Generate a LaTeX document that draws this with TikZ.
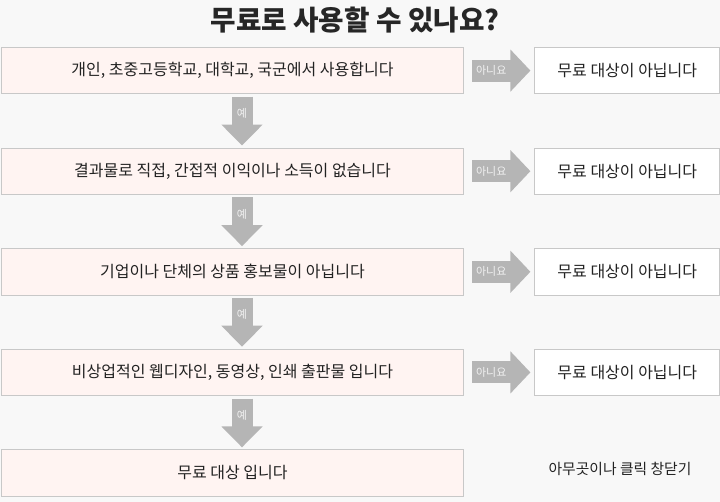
\documentclass[tikz,border=0pt]{standalone}
\usepackage{fontspec}
\setmainfont{Noto Sans CJK KR}
\usepackage{tikz}
\usetikzlibrary{positioning, arrows.meta}

\definecolor{bgcol}{HTML}{F8F8F8}
\definecolor{askfill}{HTML}{FFF4F2}
\definecolor{boxline}{HTML}{C8C8C8}
\definecolor{arrowcol}{HTML}{B5B5B5}
\definecolor{txtcol}{HTML}{222222}

\tikzset{
    askbox/.style={draw=boxline, line width=0.8pt, fill=askfill, inner sep=0pt,
        minimum width=461.6pt, minimum height=46.5pt, text=txtcol,
        font=\fontsize{16}{19}\selectfont},
    nobox/.style={askbox, fill=white, minimum width=185pt},
    noarrow/.style={draw=arrowcol, line width=22pt, shorten <=8.4pt, shorten >=4pt,
        -{Triangle[length=20pt, width=41pt]}},
    yesarrow/.style={draw=arrowcol, line width=21pt, shorten <=2.5pt, shorten >=2pt,
        -{Triangle[length=21pt, width=40pt]}},
    arrowlabel/.style={text=white!95!black, inner sep=0pt, font=\fontsize{11}{13}\selectfont}
}

\begin{document}
\begin{tikzpicture}[x=1pt, y=-1pt, node distance=53.3pt]
    % Background
    \fill[bgcol] (0,0) rectangle (720,502);
    \useasboundingbox (0,0) rectangle (720,502);
    % Title
    \node[text=black!85, font=\fontsize{27.7}{32}\selectfont\bfseries] (title) at (355,20)
        {무료로 사용할 수 있나요?};
    % Questions
    \node[askbox] (q1) at (232.5,70.6) {개인, 초중고등학교, 대학교, 국군에서 사용합니다};
    \node[askbox, below=of q1] (q2) {결과물로 직접, 간접적 이익이나 소득이 없습니다};
    \node[askbox, below=of q2] (q3) {기업이나 단체의 상품 홍보물이 아닙니다};
    \node[askbox, below=of q3] (q4) {비상업적인 웹디자인, 동영상, 인쇄 출판물 입니다};
    \node[askbox, below=of q4] (q5) {무료 대상 입니다};
    % Not free
    \node[nobox, right=70.7pt of q1] (n1) {무료 대상이 아닙니다};
    \node[nobox, right=70.7pt of q2] (n2) {무료 대상이 아닙니다};
    \node[nobox, right=70.7pt of q3] (n3) {무료 대상이 아닙니다};
    \node[nobox, right=70.7pt of q4] (n4) {무료 대상이 아닙니다};
    % No arrows
    \draw[noarrow] (q1) -- node[arrowlabel, pos=0.39] {아니요} (n1);
    \draw[noarrow] (q2) -- node[arrowlabel, pos=0.39] {아니요} (n2);
    \draw[noarrow] (q3) -- node[arrowlabel, pos=0.39] {아니요} (n3);
    \draw[noarrow] (q4) -- node[arrowlabel, pos=0.39] {아니요} (n4);
    % Yes arrows
    \draw[yesarrow] (q1.south -| 242,0) -- node[arrowlabel, pos=0.36] {예} (q2.north -| 242,0);
    \draw[yesarrow] (q2.south -| 242,0) -- node[arrowlabel, pos=0.36] {예} (q3.north -| 242,0);
    \draw[yesarrow] (q3.south -| 242,0) -- node[arrowlabel, pos=0.36] {예} (q4.north -| 242,0);
    \draw[yesarrow] (q4.south -| 242,0) -- node[arrowlabel, pos=0.36] {예} (q5.north -| 242,0);
    % Close note
    \node[text=txtcol, font=\fontsize{14.8}{17}\selectfont] (close) at (620,469)
        {아무곳이나 클릭 창닫기};
\end{tikzpicture}
\end{document}
